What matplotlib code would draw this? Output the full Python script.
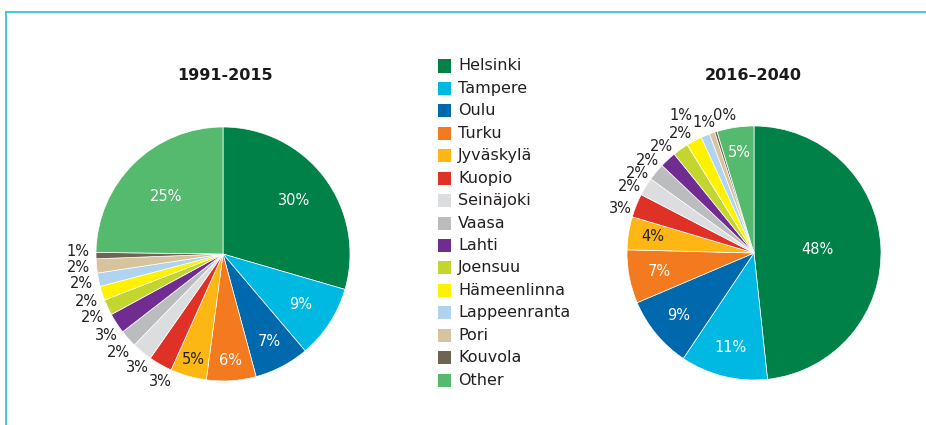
import matplotlib
matplotlib.use("Agg")
import matplotlib.pyplot as plt
from matplotlib.patches import Rectangle
from matplotlib.lines import Line2D
import numpy as np

W, H = 926, 425

CITIES = ["Helsinki", "Tampere", "Oulu", "Turku", "Jyväskylä", "Kuopio",
          "Seinäjoki", "Vaasa", "Lahti", "Joensuu", "Hämeenlinna",
          "Lappeenranta", "Pori", "Kouvola", "Other"]

COLORS = ["#008148", "#00b9e3", "#0068ad", "#f47a20", "#fdb714", "#e03127",
          "#dcdddf", "#bbbcbe", "#702c91", "#c3d52f", "#fff200",
          "#b0d3ef", "#d7c49e", "#6e6452", "#55b96e"]

SHARE_1991_2015 = [29.5, 9.3, 7.0, 6.3, 4.6, 3.0, 2.6, 2.2, 2.6, 2.0, 1.8, 1.7, 1.8, 0.8, 24.8]
SHARE_2016_2040 = [48.3, 11.1, 9.2, 6.8, 4.2, 3.0, 2.3, 2.2, 2.1, 2.0, 2.0, 1.1, 0.7, 0.3, 4.7]

TITLES = ["1991-2015", "2016–2040"]

# --- label placement (radius in pie radii, angle nudges in degrees) ---
INSIDE = {0: 0.70, 1: 0.73, 2: 0.78, 3: 0.84, 4: 0.86, 14: 0.64}
INSIDE_R = {0: 0.50, 1: 0.77, 2: 0.77, 3: 0.76, 4: 0.81, 14: 0.80}
NUDGE_L = {5: 3.2, 6: 2.4, 7: 1.7, 8: 2.0, 9: 1.0, 10: 1.0, 11: 0.0, 12: 0.0, 13: -1.6}
NUDGE_R = {5: 3.6, 6: 3.5, 7: 5.5, 8: 6.3, 9: 5.7, 10: 3.6, 11: 5.5, 12: 1.7, 13: -5.5}
OUT_R_L = {5: 1.12, 6: 1.12, 7: 1.13, 8: 1.12}
OUT_R_R = {11: 1.23, 12: 1.10, 13: 1.11}

FRAME = "#35c0e0"
TEXT = "#231f20"
RADIUS_PX = 127


def pie_axes(fig, cx, cy):
    span = 3 * RADIUS_PX
    ax = fig.add_axes([(cx - span / 2) / W, 1 - (cy + span / 2) / H, span / W, span / H])
    return ax


def draw_pie(ax, values, inside, nudge, out_r, out_default):
    wedges, _ = ax.pie(values, colors=COLORS, startangle=90, counterclock=False,
                       radius=1.0, center=(0, 0),
                       wedgeprops=dict(edgecolor="white", linewidth=0.5))
    ax.set_xlim(-1.5, 1.5)
    ax.set_ylim(-1.5, 1.5)
    ax.set_aspect("equal")
    ax.axis("off")
    total = float(sum(values))
    for i, (w, v) in enumerate(zip(wedges, values)):
        pct = f"{v / total * 100:.0f}%"
        mid = np.deg2rad((w.theta1 + w.theta2) / 2)
        if i in inside:
            r = inside[i]
            col = TEXT if i == 4 else "white"
        else:
            r = out_r.get(i, out_default)
            mid = mid + np.deg2rad(nudge.get(i, 0))
            col = TEXT
        ax.text(r * np.cos(mid), r * np.sin(mid), pct, ha="center", va="center",
                fontsize=10.5, color=col)


fig = plt.figure(figsize=(W / 100, H / 100), dpi=100)
fig.patch.set_facecolor("white")

ax1 = pie_axes(fig, 223, 254)
draw_pie(ax1, SHARE_1991_2015, INSIDE, NUDGE_L, OUT_R_L, 1.14)
ax2 = pie_axes(fig, 754, 253)
draw_pie(ax2, SHARE_2016_2040, INSIDE_R, NUDGE_R, OUT_R_R, 1.11)

fig.text(225 / W, 1 - 75 / H, TITLES[0], ha="center", va="center",
         fontsize=11.5, fontweight="bold", color="#1a1a1a")
fig.text(753 / W, 1 - 75 / H, TITLES[1], ha="center", va="center",
         fontsize=11.5, fontweight="bold", color="#1a1a1a")

# legend
for i, (name, c) in enumerate(zip(CITIES, COLORS)):
    yc = 66 + i * 22.43
    fig.patches.append(Rectangle((438 / W, 1 - (yc + 6.5) / H), 13 / W, 13 / H,
                                 transform=fig.transFigure, facecolor=c,
                                 edgecolor="none"))
    fig.text(458 / W, 1 - yc / H, name, ha="left", va="center",
             fontsize=11.5, color=TEXT)

# frame lines (top and left)
fig.lines.append(Line2D([5.5 / W, 1], [1 - 12 / H, 1 - 12 / H], transform=fig.transFigure,
                        color=FRAME, linewidth=1.3))
fig.lines.append(Line2D([5.5 / W, 5.5 / W], [0, 1 - 12 / H], transform=fig.transFigure,
                        color=FRAME, linewidth=1.3))

fig.savefig("out.png", dpi=100)
